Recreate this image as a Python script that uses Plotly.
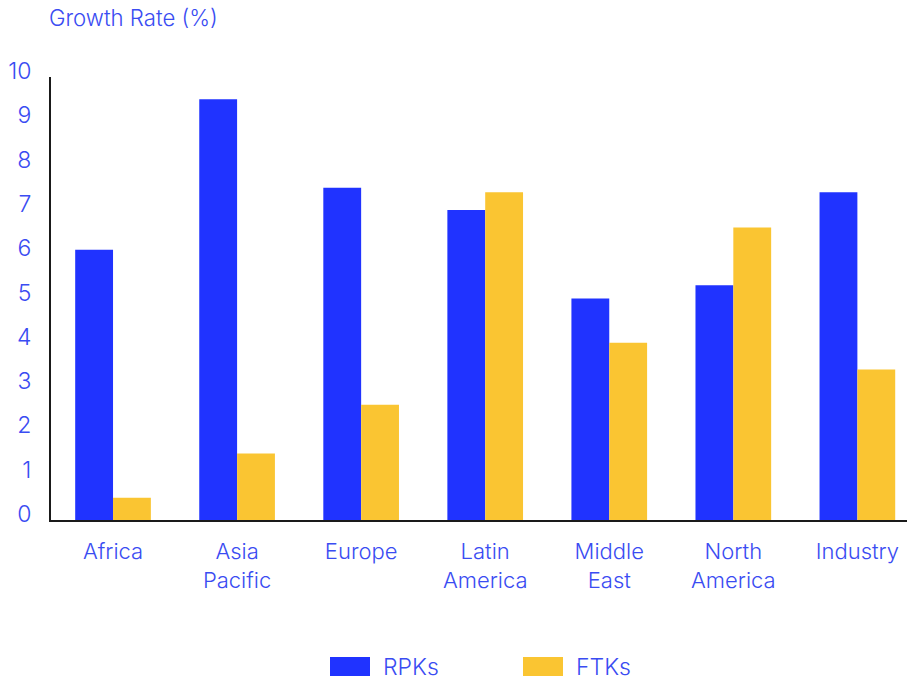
import plotly.graph_objects as go

regions = ["Africa", "Asia<br>Pacific", "Europe", "Latin<br>America", "Middle<br>East", "North<br>America", "Industry"]
rpk_growth = [6.1, 9.5, 7.5, 7.0, 5.0, 5.3, 7.4]
ftk_growth = [0.5, 1.5, 2.6, 7.4, 4.0, 6.6, 3.4]
series_names = ["RPKs", "FTKs"]
y_ticks = list(range(0, 11))

BLUE = "#2033FF"
YELLOW = "#FAC532"
TEXT = "#3A4CF2"
FONT = "Inter"
WEIGHT = 300

fig = go.Figure()
fig.add_trace(go.Bar(x=regions, y=rpk_growth, name=series_names[0], marker_color=BLUE,
                     marker_line_width=0, showlegend=False))
fig.add_trace(go.Bar(x=regions, y=ftk_growth, name=series_names[1], marker_color=YELLOW,
                     marker_line_width=0, showlegend=False))

# legend drawn as swatches + labels below the plot
swatches = [(series_names[0], BLUE, 330), (series_names[1], YELLOW, 523)]
for name, color, x0 in swatches:
    fig.add_shape(type="rect", xref="paper", yref="paper",
                  x0=(x0 - 51) / 856, x1=(x0 + 40 - 51) / 856,
                  y0=(520 - 676) / 443, y1=(520 - 657) / 443,
                  fillcolor=color, line_width=0)
    fig.add_annotation(text=name, xref="paper", yref="paper",
                       x=(x0 + 51 - 51) / 856, y=(520 - 667) / 443,
                       xanchor="left", yanchor="middle", showarrow=False,
                       font=dict(family=FONT, size=23, color=TEXT, weight=WEIGHT))

fig.add_annotation(text="Growth Rate (%)", xref="paper", yref="paper",
                   x=(47 - 51) / 856, y=(520 - 18) / 443, xanchor="left", yanchor="middle",
                   showarrow=False, font=dict(family=FONT, size=22.2, color=TEXT, weight=WEIGHT))

fig.update_layout(
    width=907, height=681,
    margin=dict(l=51, r=0, t=77, b=161),
    paper_bgcolor="white", plot_bgcolor="white",
    barmode="group", bargap=0.39, bargroupgap=0,
    font=dict(family=FONT, size=22, color=TEXT, weight=WEIGHT),
    showlegend=False,
)
fig.update_xaxes(range=[-0.5, 6.4], showline=True, linecolor="#1a1a1a", linewidth=2,
                 showgrid=False, ticks="", ticklabelstandoff=11,
                 tickfont=dict(family=FONT, size=22, color=TEXT, weight=WEIGHT))
fig.update_yaxes(range=[0, 10], tickvals=y_ticks, showline=True, linecolor="#1a1a1a",
                 linewidth=2, showgrid=False, zeroline=False, ticks="",
                 ticklabelstandoff=13, ticklabelshift=-6,
                 tickfont=dict(family=FONT, size=23, color=TEXT, weight=WEIGHT))

fig.write_html("out.html")
